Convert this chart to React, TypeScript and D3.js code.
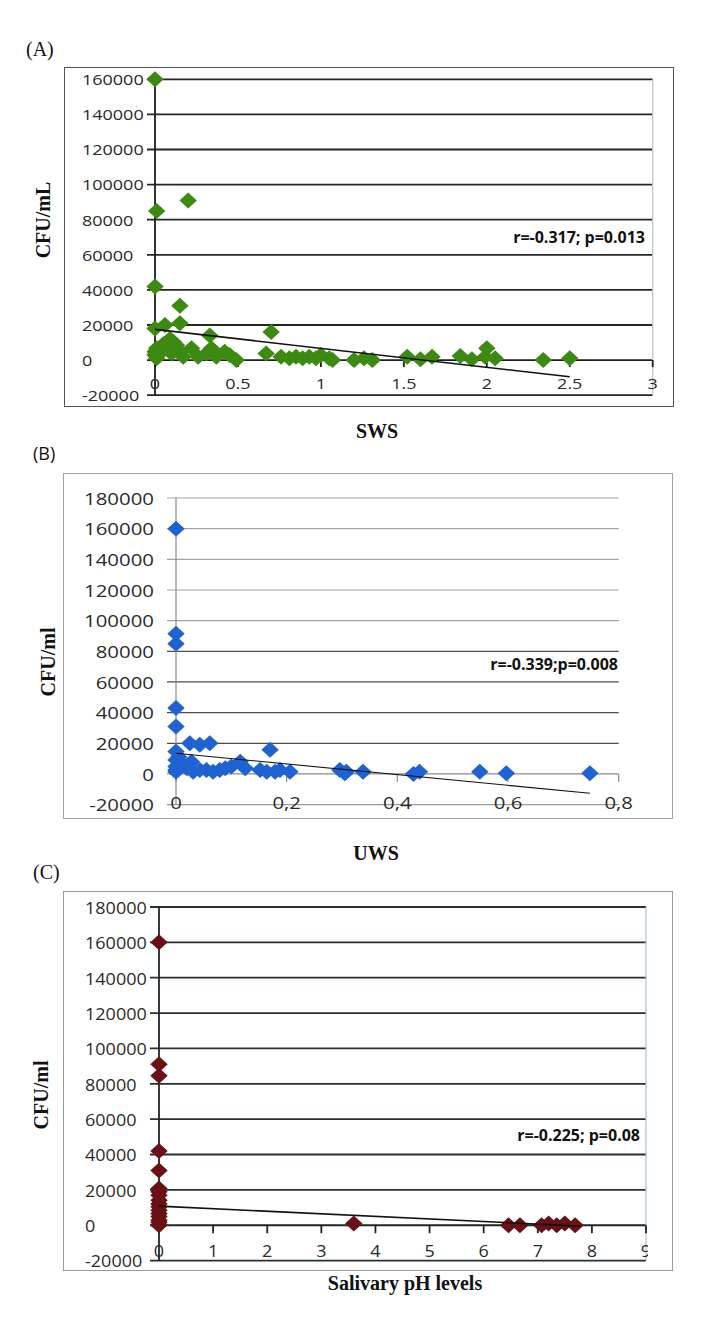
import React from "react";
import * as d3 from "d3";

// ---------- DATA ----------
// Panel A: SWS vs CFU/mL
const swsValues = [0, 0.01, 0, 0, 0, 0, 0.01, 0.01, 0.2, 0.15, 0.06, 0.15, 0.33, 0.7,
  0.04, 0.07, 0.1, 0.11, 0.13, 0.15, 0.17, 0.22, 0.26, 0.31, 0.34, 0.37, 0.42, 0.45, 0.49,
  0.67, 0.76, 0.81, 0.85, 0.89, 0.93, 0.97, 1.0, 1.05, 0.09, 0.05,
  1.07, 1.2, 1.26, 1.31, 1.52, 1.6, 1.67, 1.84, 1.91, 2.0, 1.99, 2.05, 2.34, 2.5];
const swsCfu = [160000, 85000, 42000, 18000, 2900, 4700, 1000, 6700, 91000, 31000, 20000, 21000, 14000, 16000,
  4700, 6700, 3800, 10400, 8500, 4700, 1900, 6700, 1900, 3800, 6700, 1900, 4700, 2900, 0,
  3800, 1900, 1000, 1900, 1000, 1900, 1000, 2900, 1000, 12000, 9000,
  0, 0, 1000, 0, 1900, 500, 1900, 2300, 500, 6700, 1900, 1000, 0, 1000];
const swsTrend = [[0, 17500], [2.5, -9500]];
const swsYTicks = [-20000, 0, 20000, 40000, 60000, 80000, 100000, 120000, 140000, 160000];
const swsXTicks = [0, 0.5, 1, 1.5, 2, 2.5, 3];
const swsXTickLabels = ["0", "0.5", "1", "1.5", "2", "2.5", "3"];

// Panel B: UWS vs CFU/ml
const uwsValues = [0, 0, 0, 0, 0, 0, 0.025, 0.043, 0.061, 0.17,
  0, 0, 0, 0, 0.01, 0.02, 0.028, 0.031, 0.043, 0.055, 0.067, 0.079, 0.089, 0.1, 0.116, 0.125,
  0.152, 0.164, 0.179, 0.188, 0.206, 0.296, 0.308, 0.305, 0.338, 0.429, 0.44, 0.549, 0.597, 0.748,
  0.005, 0.015];
const uwsCfu = [160000, 91500, 85000, 43000, 31000, 14600, 20000, 19000, 20000, 15700,
  9150, 4800, 2600, 1500, 7000, 3700, 8000, 1500, 2600, 2600, 1500, 2600, 3700, 4800, 8000, 3700,
  2600, 1500, 1500, 2600, 1500, 2600, 1500, 500, 1500, 0, 1500, 1500, 500, 500,
  11000, 5500];
const uwsTrend = [[0, 13500], [0.748, -12600]];
const uwsYTicks = [-20000, 0, 20000, 40000, 60000, 80000, 100000, 120000, 140000, 160000, 180000];
const uwsXTicks = [0, 0.2, 0.4, 0.6, 0.8];
const uwsXTickLabels = ["0", "0,2", "0,4", "0,6", "0,8"];

// Panel C: salivary pH vs CFU/ml
const phValues = [0, 0, 0, 0, 0, 0, 0, 0, 0, 0, 0, 0, 0, 0, 0, 0, 0,
  3.6, 6.46, 6.67, 7.07, 7.2, 7.35, 7.5, 7.69];
const phCfu = [160000, 91000, 84500, 42000, 31000, 20800, 19000, 17000, 14200, 12000, 10400, 8500, 6600, 5000, 2800, 1500, 0,
  1000, 0, 0, 0, 1000, 0, 1000, 0];
const phTrend = [[0, 10800], [7.78, -480]];
const phYTicks = [-20000, 0, 20000, 40000, 60000, 80000, 100000, 120000, 140000, 160000, 180000];
const phXTicks = [0, 1, 2, 3, 4, 5, 6, 7, 8, 9];
const phXTickLabels = ["0", "1", "2", "3", "4", "5", "6", "7", "8", "9"];

// ---------- STYLE ----------
const SANS = "'Open Sans', 'DejaVu Sans', sans-serif";
const SERIF = "'Liberation Serif', 'DejaVu Serif', serif";

const diamond = (w: number, h: number) => `M0,${-h}L${w},0L0,${h}L${-w},0Z`;

type PanelCfg = {
  id: string;
  letter: string;
  letterFont: string;
  letterX: number;
  letterY: number;
  box: [number, number, number, number];
  boxStroke: string;
  xRange: [number, number];
  yRange: [number, number];
  xDomain: [number, number];
  yDomain: [number, number];
  gridStart: number;
  gridColor: (v: number) => string;
  gridWidth: number;
  axisColor: string;
  axisWidth: number;
  rightLine: string | null;
  tickLen: number;
  yLabelX: number;
  yLabelAnchor: "start" | "end";
  tickSize: number;
  tickScale: number;
  xTickLabelY: number;
  xClip: number | null;
  color: string;
  trendWidth: number;
  annot: string;
  annotX: number;
  annotY: number;
  yTitle: string;
  yTitleX: number;
  yTitleY: number;
  xTitle: string;
  xTitleX: number;
  xTitleY: number;
};

function Panel({ cfg, xs, ys, trend, yTicks, xTicks, xTickLabels }: {
  cfg: PanelCfg; xs: number[]; ys: number[]; trend: number[][];
  yTicks: number[]; xTicks: number[]; xTickLabels: string[];
}) {
  const x = d3.scaleLinear().domain(cfg.xDomain).range(cfg.xRange);
  const y = d3.scaleLinear().domain(cfg.yDomain).range(cfg.yRange);
  const [bx0, by0, bx1, by1] = cfg.box;
  const line = d3.line<number[]>().x((d) => x(d[0])).y((d) => y(d[1]));
  const y0 = y(0);
  const clipId = `clip-${cfg.id}`;
  return (
    <g>
      <text x={cfg.letterX} y={cfg.letterY} dominantBaseline="central" fontFamily={cfg.letterFont}
        fontSize={cfg.letterFont === SANS ? 18 : 20} fill="#111">{cfg.letter}</text>
      <rect x={bx0 + 0.5} y={by0 + 0.5} width={bx1 - bx0} height={by1 - by0} fill="#fff"
        stroke={cfg.boxStroke} strokeWidth={1} />
      {cfg.xClip !== null && (
        <defs>
          <clipPath id={clipId}>
            <rect x={0} y={0} width={cfg.xClip} height={2000} />
          </clipPath>
        </defs>
      )}
      {/* gridlines */}
      {yTicks.map((t) => (
        <line key={`g${t}`} x1={cfg.gridStart} x2={cfg.xRange[1]} y1={y(t)} y2={y(t)}
          stroke={t === 0 ? cfg.axisColor : cfg.gridColor(t)}
          strokeWidth={t === 0 ? cfg.axisWidth : cfg.gridWidth} />
      ))}
      {cfg.rightLine && (
        <line x1={cfg.xRange[1]} x2={cfg.xRange[1]} y1={y(yTicks[yTicks.length - 1])} y2={y(yTicks[0])}
          stroke={cfg.rightLine} strokeWidth={1.2} />
      )}
      {/* y axis */}
      <line x1={x(0)} x2={x(0)} y1={y(yTicks[yTicks.length - 1])} y2={y(yTicks[0])}
        stroke={cfg.axisColor} strokeWidth={cfg.axisWidth} />
      {/* x ticks */}
      {xTicks.map((t) => (
        <line key={`xt${t}`} x1={x(t)} x2={x(t)} y1={y0} y2={y0 + cfg.tickLen}
          stroke={cfg.axisColor} strokeWidth={cfg.axisWidth} />
      ))}
      {/* y tick labels */}
      {yTicks.map((t) => (
        <text key={`yl${t}`} transform={`translate(${cfg.yLabelX},${y(t)}) scale(${cfg.tickScale},1)`}
          textAnchor={cfg.yLabelAnchor} dominantBaseline="central" fontFamily={SANS}
          fontSize={cfg.tickSize} fill="#2a2a2a">{String(t)}</text>
      ))}
      {/* x tick labels */}
      <g clipPath={cfg.xClip !== null ? `url(#${clipId})` : undefined}>
        {xTicks.map((t, i) => (
          <text key={`xl${t}`} transform={`translate(${x(t)},${cfg.xTickLabelY}) scale(${cfg.tickScale},1)`}
            textAnchor="middle" dominantBaseline="central" fontFamily={SANS}
            fontSize={cfg.tickSize} fill="#2a2a2a">{xTickLabels[i]}</text>
        ))}
      </g>
      {/* points */}
      {xs.map((v, i) => (
        <path key={`p${i}`} d={diamond(8.7, 8)} transform={`translate(${x(v)},${y(ys[i])})`}
          fill={cfg.color} />
      ))}
      {/* trend */}
      <path d={line(trend) || ""} fill="none" stroke="#111" strokeWidth={cfg.trendWidth} />
      {/* annotation */}
      <text x={cfg.annotX} y={cfg.annotY} textAnchor="end" dominantBaseline="central"
        fontFamily={SANS} fontWeight="bold" fontSize={16} fill="#111">{cfg.annot}</text>
      {/* titles */}
      <text transform={`translate(${cfg.yTitleX},${cfg.yTitleY}) rotate(-90)`} textAnchor="middle"
        dominantBaseline="central" fontFamily={SERIF} fontWeight="bold" fontSize={20} fill="#111">
        {cfg.yTitle}
      </text>
      <text x={cfg.xTitleX} y={cfg.xTitleY} textAnchor="middle" dominantBaseline="central"
        fontFamily={SERIF} fontWeight="bold" fontSize={20} fill="#111">{cfg.xTitle}</text>
    </g>
  );
}

const cfgA: PanelCfg = {
  id: "a", letter: "(A)", letterFont: SERIF, letterX: 26, letterY: 49,
  box: [64, 67, 673, 406], boxStroke: "#4a5656",
  xRange: [155, 652.7], yRange: [395.2, 79.3], xDomain: [0, 3], yDomain: [-20000, 160000],
  gridStart: 147, gridColor: () => "#262626", gridWidth: 1.8,
  axisColor: "#1e1e1e", axisWidth: 1.8, rightLine: "#b8c6ca", tickLen: 7,
  yLabelX: 82, yLabelAnchor: "start", tickSize: 15, tickScale: 1.2, xTickLabelY: 383, xClip: null,
  color: "#3c8a12", trendWidth: 1.6,
  annot: "r=-0.317; p=0.013", annotX: 645, annotY: 237,
  yTitle: "CFU/mL", yTitleX: 43, yTitleY: 220, xTitle: "SWS", xTitleX: 377, xTitleY: 431,
};

const cfgB: PanelCfg = {
  id: "b", letter: "(B)", letterFont: SANS, letterX: 33, letterY: 453,
  box: [63, 473, 672, 818], boxStroke: "#a0a0a0",
  xRange: [176, 618.7], yRange: [804.6, 498], xDomain: [0, 0.8], yDomain: [-20000, 180000],
  gridStart: 167, gridColor: (v) => (v >= 100000 ? "#a2a2a2" : v < 0 ? "#9a9a9a" : "#4c4c4c"), gridWidth: 1.2,
  axisColor: "#8a8a8a", axisWidth: 1.2, rightLine: null, tickLen: 8,
  yLabelX: 154, yLabelAnchor: "end", tickSize: 17, tickScale: 1.2, xTickLabelY: 802, xClip: null,
  color: "#1f62d2", trendWidth: 1.1,
  annot: "r=-0.339;p=0.008", annotX: 618, annotY: 664,
  yTitle: "CFU/ml", yTitleX: 48, yTitleY: 662, xTitle: "UWS", xTitleX: 376, xTitleY: 852.5,
};

const cfgC: PanelCfg = {
  id: "c", letter: "(C)", letterFont: SERIF, letterX: 33, letterY: 872,
  box: [63, 891, 672, 1270], boxStroke: "#9a9a9a",
  xRange: [159, 646], yRange: [1260.6, 907], xDomain: [0, 9], yDomain: [-20000, 180000],
  gridStart: 150, gridColor: () => "#263232", gridWidth: 1.8,
  axisColor: "#1e2626", axisWidth: 1.8, rightLine: "#a8c2c2", tickLen: 8,
  yLabelX: 85, yLabelAnchor: "start", tickSize: 17, tickScale: 1.06, xTickLabelY: 1250.5, xClip: 648,
  color: "#6a1016", trendWidth: 1.6,
  annot: "r=-0.225; p=0.08", annotX: 640, annotY: 1135,
  yTitle: "CFU/ml", yTitleX: 41, yTitleY: 1095, xTitle: "Salivary pH levels", xTitleX: 405, xTitleY: 1282.5,
};

export default function App() {
  return (
    <svg width={706} height={1341} viewBox="0 0 706 1341"
      style={{ position: "absolute", left: 0, top: 0, background: "#fff" }}>
      <rect x={0} y={0} width={706} height={1341} fill="#fff" />
      <Panel cfg={cfgA} xs={swsValues} ys={swsCfu} trend={swsTrend} yTicks={swsYTicks}
        xTicks={swsXTicks} xTickLabels={swsXTickLabels} />
      <Panel cfg={cfgB} xs={uwsValues} ys={uwsCfu} trend={uwsTrend} yTicks={uwsYTicks}
        xTicks={uwsXTicks} xTickLabels={uwsXTickLabels} />
      <Panel cfg={cfgC} xs={phValues} ys={phCfu} trend={phTrend} yTicks={phYTicks}
        xTicks={phXTicks} xTickLabels={phXTickLabels} />
    </svg>
  );
}
